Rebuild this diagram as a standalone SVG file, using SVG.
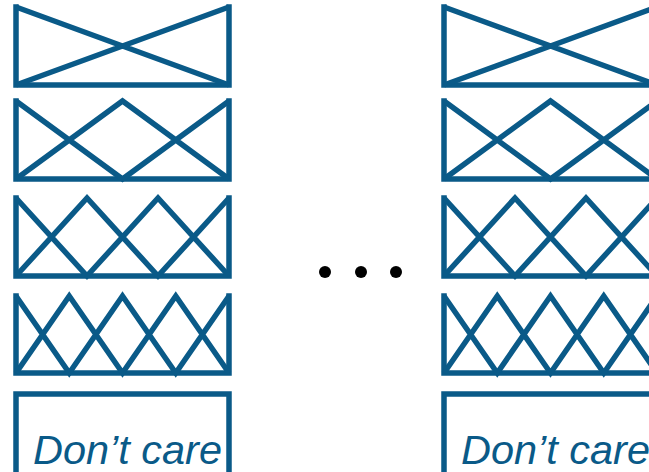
<svg xmlns="http://www.w3.org/2000/svg" width="649" height="472" viewBox="0 0 649 472">
<defs>
<style>
.f{fill:none;stroke:#0a5a88;stroke-width:5.5;stroke-linejoin:miter;stroke-linecap:square}
.d{fill:none;stroke:#0a5a88;stroke-width:5.5;stroke-linecap:butt}
.t{font-family:"Liberation Sans",Arial,sans-serif;font-style:italic;font-size:41px;fill:#0a5a88}
.dot{fill:#000}
</style>
<g id="c1">
<path class="f" d="M16,7 V85 H229 V7"/>
<path class="d" d="M16,85 L229,7 M16,7 L229,85"/>
</g>
<g id="c2">
<path class="f" d="M16,101 V179 H229 V101"/>
<path class="d" d="M16,179 L122.5,101 L229,179 M16,101 L122.5,179 L229,101"/>
</g>
<g id="c3">
<path class="f" d="M16,198 V276 H229 V198"/>
<path class="d" d="M16,198 L87,276 L158,198 L229,276 M16,276 L87,198 L158,276 L229,198"/>
</g>
<g id="c4">
<path class="f" d="M16,296 V373 H229 V296"/>
<path class="d" d="M16,296 L69.25,373 L122.5,296 L175.75,373 L229,296 M16,373 L69.25,296 L122.5,373 L175.75,296 L229,373"/>
</g>
</defs>
<g id="col-left">
<use href="#c1"/><use href="#c2"/><use href="#c3"/><use href="#c4"/>
</g>
<g id="node-left-dc">
<rect class="f" x="16" y="394" width="213" height="86"/>
<text class="t" x="33" y="464" textLength="189" lengthAdjust="spacingAndGlyphs">Don’t care</text>
</g>
<g id="col-right" transform="translate(428,0)">
<use href="#c1"/><use href="#c2"/><use href="#c3"/><use href="#c4"/>
</g>
<g id="node-right-dc">
<rect class="f" x="444" y="394" width="213" height="86"/>
<text class="t" x="461" y="464" textLength="189" lengthAdjust="spacingAndGlyphs">Don’t care</text>
</g>
<g id="ellipsis">
<circle class="dot" cx="325" cy="272" r="6"/>
<circle class="dot" cx="361" cy="272" r="6"/>
<circle class="dot" cx="396" cy="272" r="6"/>
</g>
</svg>
